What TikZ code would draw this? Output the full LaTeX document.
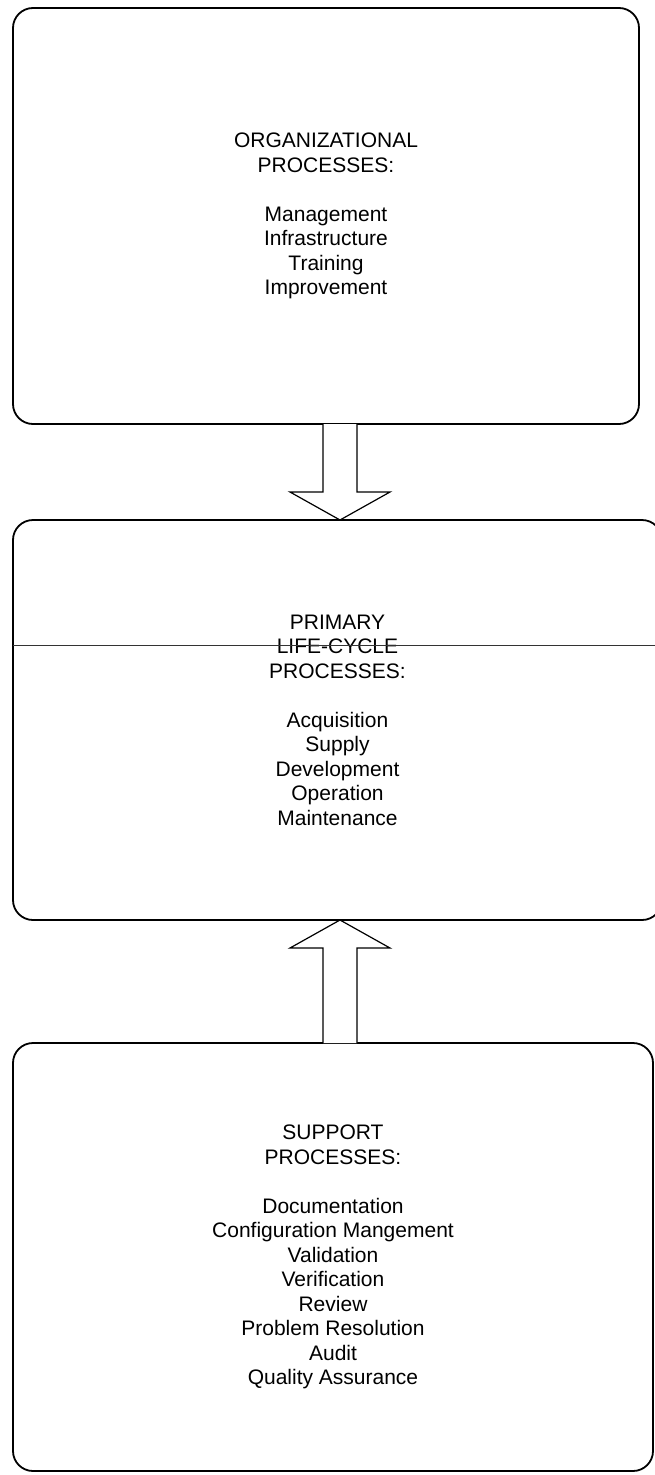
\documentclass[tikz,border=0pt]{standalone}
\usepackage{fontspec}
\setmainfont{Liberation Sans}
\begin{document}
\begin{tikzpicture}[x=1pt,y=-1pt,
  procbox/.style={draw=black, line width=1.8pt, rounded corners=20pt, inner sep=0pt, outer sep=0pt,
    align=center, font=\fontsize{21}{24.5}\selectfont},
  blockarrow/.style={draw=black, line width=1.2pt, fill=white, line join=miter}]
\useasboundingbox (0,0) rectangle (655,1475);
\node[procbox, minimum width=626pt, minimum height=416pt] (org) at (326,216)
  {ORGANIZATIONAL\\PROCESSES:\\[24.5pt]Management\\Infrastructure\\Training\\Improvement};
\node[procbox, minimum width=649pt, minimum height=400pt] (prim) at (337.5,720)
  {PRIMARY\\LIFE-CYCLE\\PROCESSES:\\[24.5pt]Acquisition\\Supply\\Development\\Operation\\Maintenance};
\node[procbox, minimum width=640pt, minimum height=428pt] (supp) at (333,1257)
  {SUPPORT\\PROCESSES:\\[24.5pt]Documentation\\Configuration Mangement\\Validation\\Verification\\Review\\Problem Resolution\\Audit\\Quality Assurance};
% strike line across the primary box
\draw[line width=0.9pt, black!80] (prim.west |- 0,645) -- (655,645);
% down arrow from organizational to primary
\coordinate (t1) at (prim.north -| 340,0);
\draw[blockarrow] (org.south -| 323,0) -- (323,492) -- (290,492) -- (t1) -- (390,492) -- (357,492) -- (org.south -| 357,0);
% up arrow from support to primary
\coordinate (t2) at (prim.south -| 340,0);
\draw[blockarrow] (supp.north -| 323,0) -- (323,948) -- (290,948) -- (t2) -- (390,948) -- (357,948) -- (supp.north -| 357,0);
\end{tikzpicture}
\end{document}
